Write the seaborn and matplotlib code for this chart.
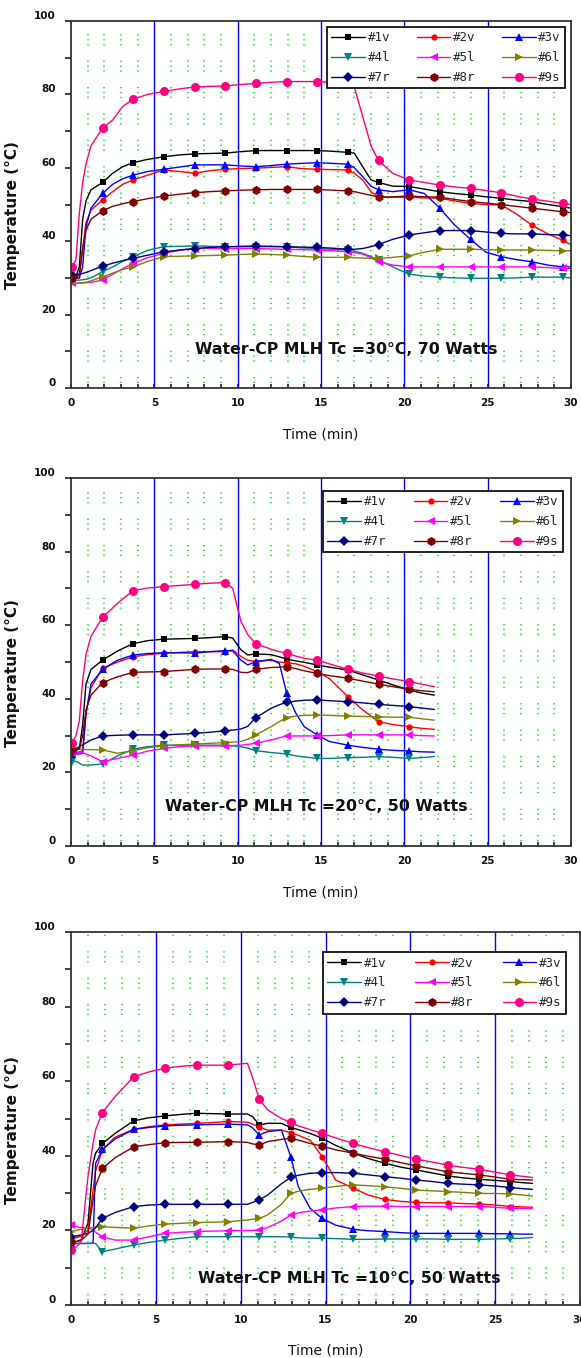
import matplotlib
matplotlib.use("Agg")
import matplotlib.pyplot as plt
import matplotlib.transforms as mtransforms
from matplotlib.lines import Line2D
from matplotlib.ticker import MultipleLocator
import seaborn as sns

# ---------------- data ----------------
series_names = ["#1v", "#2v", "#3v", "#4l", "#5l", "#6l", "#7r", "#8r", "#9s"]

# Tc = 30 C, 70 W
time_tc30 = [0.05, 0.3, 0.5, 0.7, 0.9, 1.2, 1.89, 2.5, 3.1, 3.73, 4.6, 5.57, 6.5, 7.41, 8.3,
             9.25, 10.2, 11.09, 12.0, 12.93, 13.8, 14.77, 15.7, 16.61, 17.0, 17.5, 18.0, 18.45,
             19.3, 20.29, 21.2, 22.13, 23.0, 23.97, 24.9, 25.81, 26.7, 27.65, 28.6, 29.49, 30.0]
tc30_1v = [30.3, 30.3, 33, 46, 51, 54, 56, 58.5, 60.3, 61.4, 62.3, 63, 63.5, 63.8, 63.9, 64, 64.4,
           64.7, 64.7, 64.7, 64.7, 64.7, 64.5, 64.2, 64, 60.3, 56.7, 56, 55, 54.9, 54.2, 53.5, 53,
           52.6, 52.1, 51.7, 51.2, 50.8, 50, 49.4, 49]
tc30_2v = [30, 30, 30, 38, 45, 48.5, 51.2, 53.5, 55.5, 56.7, 58, 59.4, 59, 58.5, 59.2, 59.6, 59.8,
           59.9, 60.1, 60.3, 59.8, 59.6, 59.5, 59.4, 58.5, 56.7, 53.5, 52, 52, 52, 51.8, 51.7, 51,
           50.3, 50, 49.9, 47.5, 44.4, 42, 40.3, 39]
tc30_3v = [30, 30, 30, 33, 44, 49, 53, 55.5, 57, 58, 59, 59.6, 60.2, 60.8, 60.8, 60.8, 60.5, 60.3,
           60.6, 61, 61.2, 61.4, 61.2, 61, 60, 57.6, 55, 54, 53.5, 54, 53, 49, 44.5, 40.5, 37,
           35.8, 35, 34.4, 33.5, 33, 33]
tc30_4l = [29.4, 29.4, 29.4, 29.5, 29.6, 30, 31.7, 33, 34.5, 35.8, 37.5, 38.5, 38.6, 38.7, 38.6,
           38.5, 38.5, 38.5, 38.5, 38.5, 38.2, 38, 37.8, 37.6, 37.3, 36.7, 35.8, 34.9, 33, 31,
           30.5, 30.2, 30, 29.9, 29.9, 29.9, 30, 30.2, 30.2, 30.2, 30]
tc30_5l = [28.5, 28.5, 28.5, 28.6, 28.7, 28.8, 29.4, 31, 32.5, 34, 35.5, 36.7, 37.5, 38, 38, 38,
           38, 38, 37.9, 37.8, 37.7, 37.6, 37.4, 37.1, 36.9, 36.5, 35.5, 34.4, 33.5, 33, 33, 33,
           33, 33, 33, 33, 33, 33, 32.8, 32.6, 32.6]
tc30_6l = [28.5, 28.5, 28.6, 28.7, 28.8, 29.2, 30.3, 31.3, 32.3, 33, 34.5, 35.8, 35.9, 36, 36.1,
           36.2, 36.4, 36.5, 36.4, 36.2, 35.9, 35.6, 35.6, 35.6, 35.5, 35.4, 35.3, 35.3, 35.6, 36,
           37, 37.8, 37.8, 37.8, 37.7, 37.6, 37.6, 37.6, 37.5, 37.4, 37.4]
tc30_7r = [30.8, 30.8, 31, 31.2, 31.5, 32, 33.2, 34, 34.7, 35.3, 36.2, 37.1, 37.6, 38, 38.3, 38.5,
           38.6, 38.7, 38.6, 38.5, 38.4, 38.3, 38.1, 37.8, 37.8, 38, 38.5, 39.1, 40.5, 41.7, 42.3,
           42.9, 42.9, 42.9, 42.5, 42.1, 42, 42, 41.8, 41.7, 41.5]
tc30_8r = [30, 30, 31, 38, 43, 46, 48.3, 49.5, 50.2, 50.8, 51.6, 52.3, 52.8, 53.2, 53.5, 53.7, 53.9,
           54, 54.1, 54.1, 54.1, 54.1, 53.9, 53.7, 53.5, 53, 52.5, 52, 52.1, 52.3, 52.1, 52, 51.4,
           50.8, 50.4, 50, 49.5, 49, 48.5, 48, 47.8]
tc30_9s = [33, 35, 47.6, 56, 61, 66, 70.8, 73, 76.7, 78.7, 80, 80.8, 81.5, 82, 82.2, 82.3, 82.7,
           83, 83.3, 83.5, 83.5, 83.5, 83.2, 83, 82, 74, 66, 62, 58.5, 56.7, 56, 55.3, 54.8, 54.4,
           53.8, 53.2, 52.3, 51.5, 50.9, 50.3, 50]

# Tc = 20 C, 50 W
time_tc20 = [0.05, 0.3, 0.5, 0.7, 0.9, 1.2, 1.89, 2.8, 3.73, 4.6, 5.57, 6.5, 7.41, 8.3, 9.25, 9.7,
             10.2, 10.6, 11.09, 12.0, 12.5, 12.93, 13.5, 14.0, 14.77, 15.5, 16.61, 17.5, 18.45,
             19.3, 20.29, 21.0, 21.8]
tc20_1v = [26.1, 26.1, 26.3, 33, 44, 48, 50.5, 53, 55, 55.8, 56.2, 56.3, 56.4, 56.6, 56.9, 56.5,
           53.3, 51.9, 52.2, 52, 51.4, 50.8, 50.3, 49.9, 49.2, 48.6, 47.8, 46.5, 45.1, 43.8, 42.4,
           41.6, 41]
tc20_2v = [25.5, 25.5, 25.5, 26, 36, 43, 48.3, 50, 51.4, 52, 52.4, 52.6, 52.8, 52.8, 52.8, 53.3,
           51.5, 50.5, 50.1, 50.5, 50, 49.8, 49.5, 48.8, 47.4, 45.5, 40.6, 37, 33.8, 33, 32.4, 32,
           31.7]
tc20_3v = [25, 25, 25, 25.2, 36, 44, 48, 50.5, 51.9, 52.3, 52.5, 52.5, 52.4, 52.8, 53.1, 53, 50.5,
           49.2, 50.1, 50.7, 49.6, 41.7, 36, 32.4, 30.2, 28.4, 27.4, 26.8, 26.3, 26, 25.8, 25.6,
           25.5]
tc20_4l = [22.9, 23, 22.5, 22, 22, 22, 22.3, 24.5, 26.3, 27, 27.4, 27.4, 27.4, 27.4, 27.4, 27.2, 27,
           26.6, 25.9, 25.4, 25.2, 25, 24.5, 24.2, 23.8, 23.8, 24, 24.1, 24.3, 24.1, 23.8, 24, 24.3]
tc20_5l = [25.2, 25.4, 25.5, 25.3, 25.0, 24.5, 22.9, 23.8, 24.7, 25.8, 26.5, 27, 27.2, 27.2, 27.2,
           27.3, 27.4, 27.6, 27.9, 28.8, 29.4, 29.9, 29.9, 29.9, 29.9, 30, 30.2, 30.2, 30.2, 30.2,
           30.2, 30, 29.9]
tc20_6l = [26.5, 26.5, 26.4, 26.3, 26.2, 26.2, 26.1, 25.2, 25.9, 26.7, 27.2, 27.5, 27.7, 27.9, 28.1,
           28.2, 28.4, 29, 30.2, 32.4, 33.8, 34.9, 35.3, 35.5, 35.6, 35.5, 35.3, 35.2, 35.1, 35, 35,
           34.6, 34.2]
tc20_7r = [26.1, 26.5, 27, 27.5, 28, 28.8, 29.9, 30.1, 30.2, 30.2, 30.2, 30.4, 30.6, 30.9, 31.3,
           31.5, 31.8, 32.5, 34.9, 37.4, 38.4, 39, 39.4, 39.6, 39.7, 39.5, 39.2, 38.9, 38.5, 38.2,
           37.9, 37.5, 37.1]
tc20_8r = [26, 26, 26.5, 30, 37, 41, 44.4, 46, 47.2, 47.3, 47.4, 47.7, 48, 48.1, 48.1, 48, 47.2,
           47.1, 48, 48.5, 48.6, 48.7, 48.2, 47.6, 46.9, 46.3, 45.6, 44.8, 44, 43.3, 42.6, 42.2,
           41.9]
tc20_9s = [27.9, 30, 34, 45, 52, 57, 62.1, 66, 69.4, 70.1, 70.5, 70.8, 71.1, 71.4, 71.6, 70, 61,
           57.5, 54.9, 53.5, 52.8, 52.4, 51.6, 51, 50.5, 49.5, 48, 47, 46.2, 45.4, 44.7, 44, 43.3]

# Tc = 10 C, 50 W
time_tc10 = [0.0, 0.3, 0.6, 1.0, 1.3, 1.45, 1.85, 2.6, 3.7, 4.6, 5.55, 6.5, 7.4, 8.3, 9.25, 10.4,
             10.7, 11.1, 11.6, 12.4, 12.95, 13.4, 14.1, 14.8, 15.6, 16.65, 17.5, 18.5, 19.4, 20.35,
             21.3, 22.2, 23.1, 24.05, 25.0, 25.9, 26.6, 27.2]
tc10_1v = [17, 17, 17.5, 21.9, 38, 40.7, 43.3, 46, 49.4, 50.2, 50.7, 51.1, 51.4, 51.3, 51.2, 51.2,
           50.5, 48.3, 48.7, 48.7, 47.6, 47, 46, 44.7, 42.8, 40.7, 39.3, 38, 37, 36.2, 35.4, 34.6,
           34.1, 33.7, 33.4, 33.1, 32.8, 32.6]
tc10_2v = [18, 18, 18.5, 20, 30.8, 36, 41.6, 45, 47.1, 47.8, 48.3, 48.5, 48.7, 48.9, 49.2, 49,
           48.5, 47.6, 46.9, 46.9, 46.2, 45.5, 44.2, 39.8, 33.5, 31.3, 29.5, 28.3, 27.8, 27.5,
           27.4, 27.4, 27.2, 27.1, 26.8, 26.4, 26.3, 26.2]
tc10_3v = [16.5, 16.5, 16.5, 16.5, 16.6, 38, 41.7, 44.5, 47.1, 47.6, 48, 48.2, 48.3, 48.4, 48.5,
           48.3, 47.5, 45.6, 46.5, 46.9, 39.8, 31.7, 25.9, 23.2, 21.4, 20.3, 19.9, 19.7, 19.4,
           19.2, 19.2, 19.2, 19.2, 19.2, 19.1, 19.1, 19, 19]
tc10_4l = [16.5, 16.5, 16.5, 16.5, 16.5, 16.5, 14.3, 15, 16.1, 16.8, 17.4, 17.9, 18.3, 18.3, 18.3,
           18.3, 18.3, 18.3, 18.3, 18.3, 18.2, 18, 17.9, 17.9, 17.8, 17.6, 17.6, 17.7, 17.7, 17.7,
           17.7, 17.6, 17.6, 17.6, 17.7, 17.8, 17.9, 18.1]
tc10_5l = [21.4, 21, 20.8, 20.6, 20.2, 19.5, 18.3, 17.4, 17.4, 18.3, 19.2, 19.5, 19.7, 19.8, 19.9,
           20, 20, 20.1, 20.8, 22.5, 24.1, 24.7, 25.2, 25.5, 26, 26.4, 26.5, 26.5, 26.4, 26.4, 26.4,
           26.4, 26.4, 26.4, 26.2, 25.9, 25.9, 25.9]
tc10_6l = [19.7, 20, 20.3, 20.6, 20.8, 20.9, 21, 20.8, 20.6, 21.2, 21.7, 21.9, 22.1, 22.2, 22.3,
           22.8, 23, 23.2, 24.2, 27, 29.9, 30.5, 31, 31.3, 31.8, 32.2, 32, 31.7, 31.3, 30.8, 30.6,
           30.4, 30.2, 29.9, 29.9, 29.8, 29.5, 29.2]
tc10_7r = [18.3, 18.5, 18.8, 19.2, 20, 20.7, 23.2, 24.8, 26.4, 26.8, 27, 27, 27, 27, 27, 27, 27.5,
           28.2, 29.5, 32.5, 34.2, 34.8, 35.3, 35.5, 35.5, 35.3, 34.9, 34.4, 34, 33.5, 33.1, 32.6,
           32.4, 32.2, 31.9, 31.5, 31.2, 31]
tc10_8r = [17, 17, 17.3, 19, 28.2, 32, 36.6, 39.5, 42.4, 43, 43.5, 43.6, 43.6, 43.7, 43.8, 43.6,
           43.2, 42.9, 43.8, 44.4, 44.7, 44.2, 43.3, 42.6, 41.6, 40.7, 39.9, 39.1, 38.2, 37.3,
           36.5, 35.7, 35.3, 34.9, 34.3, 33.7, 33.6, 33.5]
tc10_9s = [14.7, 15.5, 17, 34.4, 43.3, 47, 51.6, 55.9, 61.2, 62.5, 63.5, 64, 64.3, 64.3, 64.3,
           64.8, 61, 55.1, 52.3, 50, 49, 48, 47, 46, 44.8, 43.3, 42.2, 41.1, 40.1, 39.1, 38.3,
           37.5, 36.9, 36.4, 35.6, 34.9, 34.5, 34.2]

titles = ["Water-CP MLH Tc =30\u00b0C, 70 Watts",
          "Water-CP MLH Tc =20\u00b0C, 50 Watts",
          "Water-CP MLH Tc =10\u00b0C, 50 Watts"]

# ---------------- style ----------------
sns.set_theme(style="white")
plt.rcParams["font.family"] = ["DejaVu Sans"]

colors = ["#000000", "#ff0000", "#0000ff", "#008080", "#ff00ff", "#808000",
          "#000080", "#800000", "#ff0080"]
markers = ["s", "o", "^", "v", "<", ">", "D", "h", "o"]
msizes = [5, 4.5, 6, 6, 6, 6, 5, 6.5, 6.5]

panels = [
    dict(t=time_tc30, ys=[tc30_1v, tc30_2v, tc30_3v, tc30_4l, tc30_5l, tc30_6l, tc30_7r, tc30_8r, tc30_9s],
         marks=[0, 6, 9, 11, 13, 15, 17, 19, 21, 23, 27, 29, 31, 33, 35, 37, 39],
         rect=[71, 21, 571, 388], legend=(0.512, 0.984, 0.476), text=(16.5, 10.6)),
    dict(t=time_tc20, ys=[tc20_1v, tc20_2v, tc20_3v, tc20_4l, tc20_5l, tc20_6l, tc20_7r, tc20_8r, tc20_9s],
         marks=[0, 6, 8, 10, 12, 14, 18, 21, 24, 26, 28, 30],
         rect=[71, 478, 571, 846], legend=(0.504, 0.965, 0.480), text=(14.7, 10.6)),
    dict(t=time_tc10, ys=[tc10_1v, tc10_2v, tc10_3v, tc10_4l, tc10_5l, tc10_6l, tc10_7r, tc10_8r, tc10_9s],
         marks=[0, 6, 8, 10, 12, 14, 17, 20, 23, 25, 27, 29, 31, 33, 35],
         rect=[71, 932, 580, 1305], legend=(0.495, 0.946, 0.477), text=(16.4, 7.2)),
]

W, H = 581, 1358
fig = plt.figure(figsize=(W / 100, H / 100), dpi=100)
fig.patch.set_facecolor("white")

for i, p in enumerate(panels):
    x0, y0, x1, y1 = p["rect"]
    ax = fig.add_axes([x0 / W, 1 - y1 / H, (x1 - x0) / W, (y1 - y0) / H])
    ax.set_facecolor("white")
    ax.set_xlim(0, 30)
    ax.set_ylim(0, 100)

    # dotted green minute grid and blue 5-minute lines
    for m in range(1, 30):
        if m % 5:
            ax.axvline(m, color="#22e622", lw=1.3, zorder=0,
                       linestyle=(0, (0.7, 2.0, 0.7, 2.0, 0.7, 8.5)))
    for m in range(5, 30, 5):
        ax.axvline(m, color="#0000ff", lw=1.0, zorder=1)

    for name, ys, c, mk, ms in zip(series_names, p["ys"], colors, markers, msizes):
        sns.lineplot(x=p["t"], y=ys, ax=ax, color=c, lw=1.0, marker=mk, markersize=ms,
                     markeredgewidth=0, markevery=p["marks"], legend=False,
                     estimator=None, sort=False, zorder=3)

    # frame and ticks
    for s in ax.spines.values():
        s.set_color("#333333")
        s.set_linewidth(1.3)
        s.set_zorder(5)
    ax.xaxis.set_major_locator(MultipleLocator(5))
    ax.xaxis.set_minor_locator(MultipleLocator(1))
    ax.yaxis.set_major_locator(MultipleLocator(20))
    ax.yaxis.set_minor_locator(MultipleLocator(10))
    ax.tick_params(axis="x", which="both", direction="in", length=3, width=1.2,
                   color="#222222", bottom=True, top=False, pad=7)
    ax.tick_params(axis="y", which="both", direction="out", length=4, width=1.2,
                   color="#222222", left=True, right=False, pad=7)
    ax.tick_params(labelsize=7.5, labelcolor="#111111")
    for lab in ax.get_xticklabels() + ax.get_yticklabels():
        lab.set_fontweight("bold")
    up = mtransforms.ScaledTranslation(0, 6 / 100, fig.dpi_scale_trans)
    for lab in ax.get_yticklabels():
        lab.set_transform(lab.get_transform() + up)

    ax.set_ylabel("Temperature (\u00b0C)", fontsize=11, fontweight="bold", color="#111111")
    ax.yaxis.set_label_coords(-51 / (x1 - x0), 0.47)
    ax.set_xlabel("Time (min)", fontsize=10, color="#111111")
    ax.xaxis.set_label_coords(0.5, -39 / (y1 - y0))

    tx, ty = p["text"]
    ax.text(tx, ty, titles[i], ha="center", va="center", fontsize=11.3,
            fontweight="bold", color="#111111", zorder=4)

    handles = [Line2D([], [], color=c, lw=1.0, marker=mk, markersize=ms, markeredgewidth=0)
               for c, mk, ms in zip(colors, markers, msizes)]
    order = [0, 3, 6, 1, 4, 7, 2, 5, 8]
    lx, ltop, lw = p["legend"]
    leg = ax.legend([handles[k] for k in order], [series_names[k] for k in order],
                    ncol=3, loc="upper left", bbox_to_anchor=(lx, ltop - 0.2, lw, 0.2),
                    mode="expand", borderaxespad=0, fancybox=False, frameon=True,
                    prop={"family": "DejaVu Sans Mono", "size": 9},
                    handlelength=2.7, handletextpad=0.2, labelspacing=0.55,
                    borderpad=0.35, columnspacing=0.6)
    leg.get_frame().set_edgecolor("#111111")
    leg.get_frame().set_linewidth(1.3)
    leg.get_frame().set_facecolor("white")
    leg.get_frame().set_alpha(1)
    leg.set_zorder(6)

fig.savefig("out.png", dpi=100, facecolor="white")
